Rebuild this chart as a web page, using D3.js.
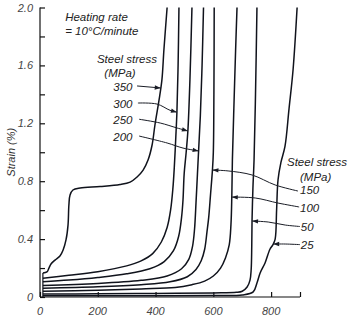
<!DOCTYPE html>
<html><head><meta charset="utf-8">
<script src="https://cdn.jsdelivr.net/npm/d3@7"></script>
<style>
html,body{margin:0;padding:0;background:#fff;}
svg{display:block;}
text{font-family:"Liberation Sans",Arial,sans-serif;font-style:italic;fill:#222;}
</style></head>
<body>
<script>
// ---- data (temperature °C, strain %) ----
const stressLevels = [350, 300, 250, 200, 150, 100, 50, 25];
const curve350 = [[10,0.166],[24,0.173],[31,0.2],[38,0.228],[52,0.255],[69,0.283],[80,0.325],[90,0.394],[97,0.497],[100,0.636],[104,0.705],[114,0.739],[139,0.753],[208,0.763],[277,0.777],[312,0.794],[336,0.829],[357,0.877],[374,0.946],[388,1.05],[398,1.19],[412,1.36],[422,1.5],[429,1.71],[440,2.0]];
const curve300 = [[10,0.13],[100,0.15],[200,0.175],[300,0.215],[350,0.25],[390,0.30],[420,0.38],[440,0.48],[452,0.60],[460,0.75],[465,0.9],[470,1.1],[474,1.28],[478,1.6],[481,2.0]];
const curve250 = [[10,0.105],[100,0.117],[200,0.135],[300,0.16],[380,0.195],[430,0.245],[462,0.32],[480,0.42],[490,0.55],[495,0.67],[499,0.85],[506,1.0],[512,1.15],[519,1.5],[526,2.0]];
const curve200 = [[10,0.08],[200,0.093],[350,0.115],[440,0.145],[490,0.195],[515,0.26],[528,0.35],[535,0.47],[540,0.65],[545,0.85],[549,1.01],[555,1.25],[561,1.6],[566,2.0]];
const curve150 = [[10,0.06],[200,0.07],[350,0.085],[450,0.105],[510,0.14],[540,0.19],[558,0.25],[570,0.33],[578,0.45],[584,0.55],[590,0.7],[597,0.88],[600,1.0],[602,1.4],[603,2.0]];
const curve100 = [[10,0.04],[200,0.047],[350,0.056],[468,0.065],[526,0.085],[570,0.11],[600,0.145],[625,0.2],[642,0.27],[655,0.36],[661,0.5],[664,0.7],[666,0.95],[671,1.3],[677,1.7],[682,2.0]];
const curve50 = [[10,0.02],[200,0.022],[400,0.025],[600,0.028],[680,0.032],[700,0.04],[717,0.069],[727,0.117],[731,0.19],[733,0.35],[734,0.53],[737,0.75],[741,0.95],[746,1.4],[751,2.0]];
const curve25 = [[10,0.008],[300,0.009],[600,0.01],[700,0.014],[738,0.035],[751,0.097],[762,0.166],[779,0.235],[796,0.33],[806,0.36],[814,0.4],[819,0.6],[824,0.81],[834,0.93],[848,1.04],[862,1.3],[876,1.57],[890,2.0]];
const curves = [curve350, curve300, curve250, curve200, curve150, curve100, curve50, curve25];

const xTickValues = [0, 200, 400, 600, 800];
const xTickLabels = ["0", "200", "400", "600", "800"];
const yTickValues = [0, 0.4, 0.8, 1.2, 1.6, 2.0];
const yTickLabels = ["0", "0.4", "0.8", "1.2", "1.6", "2.0"];
const yMinorTicks = [0.2, 0.6, 1.0, 1.4, 1.8];

const leftLabels = ["350", "300", "250", "200"];
const rightLabels = ["150", "100", "50", "25"];
const titleLines = ["Heating rate", "= 10\u00B0C/minute"];
const stressTitle = ["Steel stress", "(MPa)"];
const yTitle = "Strain (%)";

// ---- layout ----
const W = 350, H = 322;
const x = d3.scaleLinear().domain([0, 900]).range([40, 300]);
const y = d3.scaleLinear().domain([0, 2]).range([297, 7.5]);

const svg = d3.select("body").append("svg").attr("width", W).attr("height", H);

// axes
const xAxis = d3.axisBottom(x).tickValues([...xTickValues, 900]).tickSize(-5).tickFormat(() => "");
const gx = svg.append("g").attr("transform", `translate(0,${y(0)})`).call(xAxis);
gx.select(".domain").attr("d", `M${x(0)},0H${x(900)}`);
const yAxis = d3.axisLeft(y).tickValues([...yTickValues, ...yMinorTicks]).tickSize(-5).tickFormat(() => "");
const gy = svg.append("g").attr("transform", `translate(${x(0)},0)`).call(yAxis);
gy.select(".domain").attr("d", `M0,${y(0)}V${y(2)}`);
svg.selectAll(".domain,.tick line").attr("stroke", "#111").attr("stroke-width", 1.2);

// tick labels
svg.append("g").selectAll("text").data(xTickValues).join("text")
  .attr("x", d => x(d)).attr("y", 315).attr("text-anchor", "middle")
  .attr("font-size", 11).style("fill", "#444")
  .text((d, i) => xTickLabels[i]);
svg.append("g").selectAll("text").data(yTickValues).join("text")
  .attr("x", 33).attr("y", d => y(d) + 4).attr("text-anchor", "end")
  .attr("font-size", 11).style("fill", "#444")
  .text((d, i) => yTickLabels[i]);
svg.append("text").attr("transform", `translate(15,${y(1.0)}) rotate(-90)`)
  .attr("text-anchor", "middle").attr("font-size", 11).style("fill", "#333").text(yTitle);

// curves
const line = d3.line().x(d => x(d[0])).y(d => y(d[1])).curve(d3.curveCatmullRom.alpha(0.5));
svg.append("g").selectAll("path").data(curves).join("path")
  .attr("d", line).attr("fill", "none").attr("stroke", "#10131c").attr("stroke-width", 1.5);

// left vertical joining curve starts
svg.append("line").attr("x1", x(10)).attr("x2", x(10)).attr("y1", y(0)).attr("y2", y(curve350[0][1]))
  .attr("stroke", "#10131c").attr("stroke-width", 1.2);

// titles
svg.append("g").selectAll("text").data(titleLines).join("text")
  .attr("x", x(87)).attr("y", (d, i) => y(1.907) + i * 14).attr("font-size", 11.5).text(d => d);
svg.append("g").selectAll("text").data(stressTitle).join("text")
  .attr("x", (d, i) => i === 0 ? x(197) : x(277)).attr("y", (d, i) => y(1.617) + i * 14)
  .attr("text-anchor", (d, i) => i === 0 ? "start" : "middle").attr("font-size", 11.5).text(d => d);
svg.append("g").selectAll("text").data(stressTitle).join("text")
  .attr("x", (d, i) => i === 0 ? x(855) : x(900)).attr("y", (d, i) => y(0.905) + i * 15)
  .attr("font-size", 11.5).text(d => d);

// helper: temperature on a curve at a given strain
function tempAt(curve, s) {
  for (let i = 1; i < curve.length; i++) {
    const a = curve[i - 1], b = curve[i];
    if ((a[1] - s) * (b[1] - s) <= 0 && a[1] !== b[1]) {
      return a[0] + (b[0] - a[0]) * (s - a[1]) / (b[1] - a[1]);
    }
  }
  return curve[curve.length - 1][0];
}

// annotations: label anchor (T, strain), path control points, target strain on curve
const leftAnn = [
  {lab: 0, curve: curve350, at: [287, 1.423], path: [[336, 1.458]], s: 1.444},
  {lab: 1, curve: curve300, at: [287, 1.306], path: [[339, 1.34], [405, 1.333], [450, 1.29]], s: 1.277},
  {lab: 2, curve: curve250, at: [287, 1.195], path: [[343, 1.228], [416, 1.202], [474, 1.168]], s: 1.147},
  {lab: 3, curve: curve200, at: [287, 1.078], path: [[343, 1.112], [440, 1.064], [495, 1.029]], s: 1.009}
];
const rightAnn = [
  {lab: 0, curve: curve150, at: [900, 0.712], path: [[893, 0.732], [814, 0.774], [734, 0.843], [651, 0.871]], s: 0.877},
  {lab: 1, curve: curve100, at: [900, 0.587], path: [[897, 0.622], [824, 0.649], [745, 0.684]], s: 0.69},
  {lab: 2, curve: curve50, at: [903, 0.456], path: [[900, 0.487], [849, 0.497], [790, 0.518]], s: 0.525},
  {lab: 3, curve: curve25, at: [903, 0.332], path: [[900, 0.362], [849, 0.366]], s: 0.366}
];

const aLine = d3.line().x(d => x(d[0])).y(d => y(d[1])).curve(d3.curveCatmullRom.alpha(0.5));
function drawAnn(list, labels, anchor) {
  list.forEach(a => {
    svg.append("text").attr("x", x(a.at[0])).attr("y", y(a.at[1]))
      .attr("text-anchor", anchor).attr("font-size", 11.5).text(labels[a.lab]);
    const tgt = [tempAt(a.curve, a.s), a.s];
    const pts = [...a.path, tgt];
    svg.append("path").attr("d", aLine(pts)).attr("fill", "none")
      .attr("stroke", "#1a1d26").attr("stroke-width", 1);
    const p = pts[pts.length - 2];
    const ang = Math.atan2(y(tgt[1]) - y(p[1]), x(tgt[0]) - x(p[0]));
    const tx = x(tgt[0]), ty = y(tgt[1]);
    const L = 6, Wd = 2.2;
    const bx = tx - L * Math.cos(ang), by = ty - L * Math.sin(ang);
    svg.append("path").attr("d",
      `M${tx},${ty}L${bx + Wd * Math.sin(ang)},${by - Wd * Math.cos(ang)}L${bx - Wd * Math.sin(ang)},${by + Wd * Math.cos(ang)}Z`)
      .attr("fill", "#1a1d26");
  });
}
drawAnn(leftAnn, leftLabels, "middle");
drawAnn(rightAnn, rightLabels, "start");
</script>
</body></html>
